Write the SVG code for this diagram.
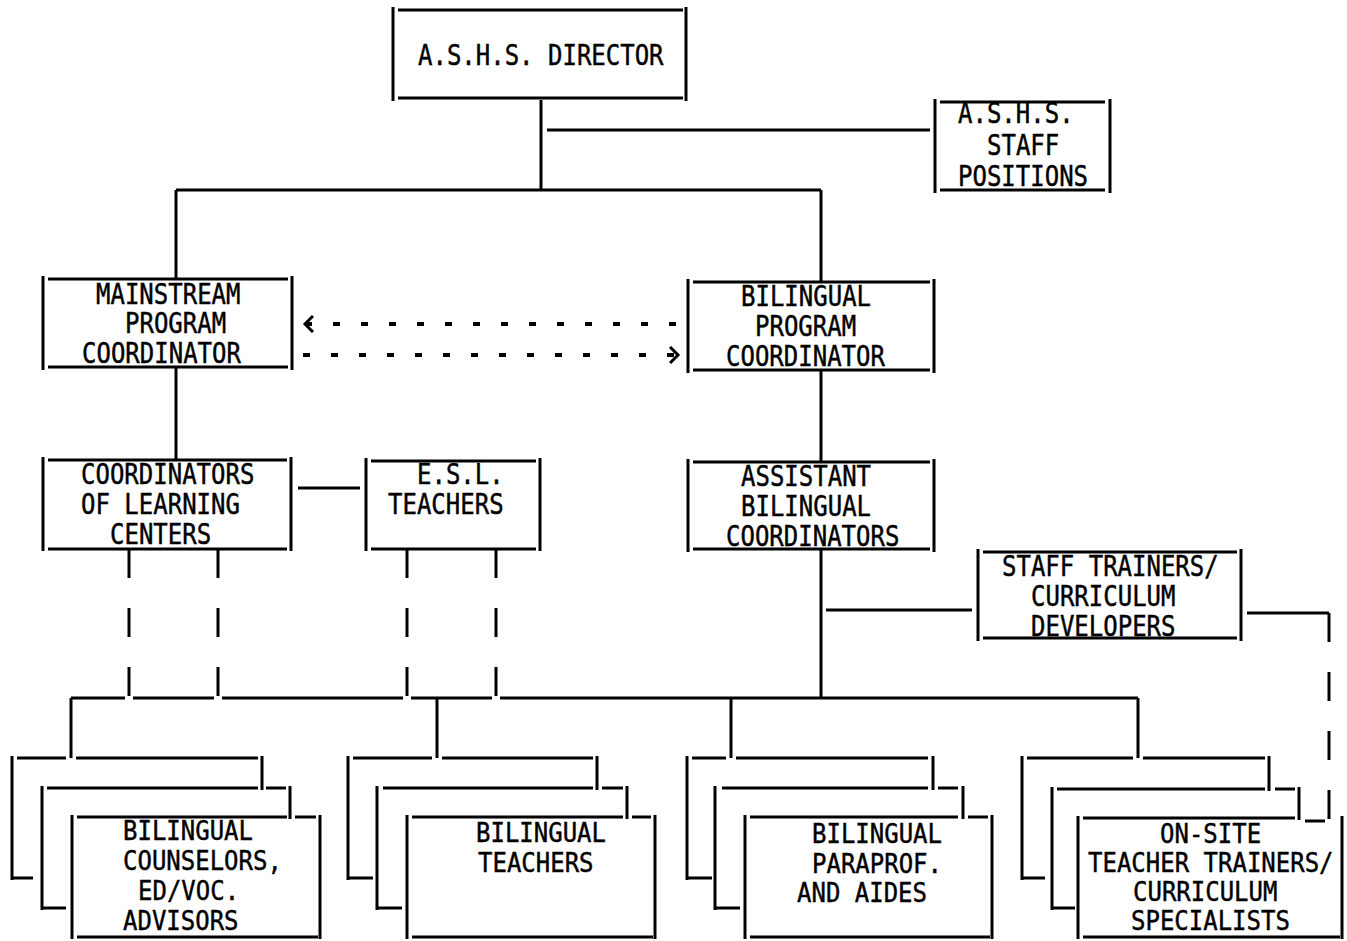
<svg xmlns="http://www.w3.org/2000/svg" width="1347" height="941" viewBox="0 0 1347 941">
<style>
.b{fill:none;stroke:#000;stroke-width:3;stroke-linecap:butt}
.c{fill:none;stroke:#000;stroke-width:3}
.d{fill:none;stroke:#000;stroke-width:3;stroke-dasharray:29 30}
.a{fill:none;stroke:#000;stroke-width:4;stroke-dasharray:7 21}
.t{font-family:"DejaVu Sans Mono","Liberation Mono",monospace;font-size:24px;fill:#000;stroke:#000;stroke-width:0.4}
</style>
<defs>
<marker id="chev" markerUnits="userSpaceOnUse" markerWidth="12" markerHeight="20" refX="9" refY="9" orient="auto-start-reverse" viewBox="0 0 12 20">
<path d="M1,1 L9,9 L1,17" fill="none" stroke="#000" stroke-width="3"/>
</marker>
</defs>
<rect width="1347" height="941" fill="#fff"/>

<g id="connectors">
<path class="c" d="M541,100V190 M547,130H930 M176,190H821 M176,190V279 M821,190V282"/>
<path class="c" d="M176,367V459 M821,370V461"/>
<path class="c" d="M298,488H360"/>
<path class="c" d="M821,549V698 M826,610H972"/>
<path class="c" d="M1247,613H1329"/>
<path class="d" d="M1329,613V822"/>
<path class="c" d="M1305,821H1325"/>
<path class="d" d="M129,549V698 M218,549V698 M407,549V698 M496,549V698"/>
<path class="c" d="M71,698H125 M133,698H214 M222,698H403 M411,698H492 M500,698H1138"/>
<path class="c" d="M71,698V758 M437,698V758 M731,698V758 M1138,698V758"/>
<line class="a" x1="305" y1="324" x2="680" y2="324" marker-start="url(#chev)"/>
<line class="a" x1="303" y1="355" x2="678" y2="355" marker-end="url(#chev)"/>
</g>

<g id="n-director">
<path class="b" d="M393,7V101 M686,7V101 M398,10H683 M398,98H683"/>
<text class="t" transform="translate(418,65) scale(1,1.2)">A.S.H.S. DIRECTOR</text>
</g>

<g id="n-staff">
<path class="b" d="M935,99V193 M1110,99V193 M940,102H1105 M940,190H1105"/>
<text class="t" transform="translate(958,123) scale(1,1.15)">A.S.H.S.</text>
<text class="t" transform="translate(987,155) scale(1,1.15)">STAFF</text>
<text class="t" transform="translate(958,186) scale(1,1.15)">POSITIONS</text>
</g>

<g id="n-mainstream">
<path class="b" d="M43,276V370 M292,276V370 M48,279H288 M48,367H288"/>
<text class="t" transform="translate(96,304) scale(1,1.15)">MAINSTREAM</text>
<text class="t" transform="translate(125,333) scale(1,1.15)">PROGRAM</text>
<text class="t" transform="translate(82,363) scale(1,1.15)">COORDINATOR</text>
</g>

<g id="n-bilingual">
<path class="b" d="M688,279V373 M934,279V373 M693,282H930 M693,370H930"/>
<text class="t" transform="translate(741,306) scale(1,1.15)">BILINGUAL</text>
<text class="t" transform="translate(755,336) scale(1,1.15)">PROGRAM</text>
<text class="t" transform="translate(726,366) scale(1,1.15)">COORDINATOR</text>
</g>

<g id="n-coord">
<path class="b" d="M43,457V551 M291,457V551 M48,460H287 M48,549H287"/>
<text class="t" transform="translate(81,484) scale(1,1.15)">COORDINATORS</text>
<text class="t" transform="translate(81,514) scale(1,1.15)">OF LEARNING</text>
<text class="t" transform="translate(110,544) scale(1,1.15)">CENTERS</text>
</g>

<g id="n-esl">
<path class="b" d="M366,458V551 M540,458V551 M371,461H536 M371,549H536"/>
<text class="t" transform="translate(417,484) scale(1,1.15)">E.S.L.</text>
<text class="t" transform="translate(388,514) scale(1,1.15)">TEACHERS</text>
</g>

<g id="n-assist">
<path class="b" d="M688,459V552 M934,459V552 M693,462H930 M693,549H930"/>
<text class="t" transform="translate(741,486) scale(1,1.15)">ASSISTANT</text>
<text class="t" transform="translate(741,516) scale(1,1.15)">BILINGUAL</text>
<text class="t" transform="translate(726,546) scale(1,1.15)">COORDINATORS</text>
</g>

<g id="n-trainers">
<path class="b" d="M978,549V641 M1241,549V641 M983,552H1237 M983,638H1237"/>
<text class="t" transform="translate(1002,576) scale(1,1.15)">STAFF TRAINERS/</text>
<text class="t" transform="translate(1031,606) scale(1,1.15)">CURRICULUM</text>
<text class="t" transform="translate(1031,636) scale(1,1.15)">DEVELOPERS</text>
</g>

<g id="n-counselors">
<path class="b" d="M12,756V880 M17,758H66 M76,758H258 M262,756V790 M12,878H33"/>
<path class="b" d="M42,786V910 M47,788H258 M266,788H286 M290,786V819 M42,908H66"/>
<path class="b" d="M72,815V939 M320,815V939 M77,817H287 M295,817H316 M77,937H318"/>
<text class="t" transform="translate(123,840) scale(1,1.12)">BILINGUAL</text>
<text class="t" transform="translate(123,870) scale(1,1.12)">COUNSELORS,</text>
<text class="t" transform="translate(138,900) scale(1,1.12)">ED/VOC.</text>
<text class="t" transform="translate(123,930) scale(1,1.12)">ADVISORS</text>
</g>

<g id="n-teachers">
<path class="b" d="M348,756V880 M353,758H432 M442,758H593 M597,756V790 M348,878H373"/>
<path class="b" d="M377,786V910 M383,788H593 M602,788H623 M627,786V819 M377,908H402"/>
<path class="b" d="M407,815V939 M655,815V939 M412,817H623 M632,817H651 M412,937H653"/>
<text class="t" transform="translate(476,842) scale(1,1.12)">BILINGUAL</text>
<text class="t" transform="translate(478,872) scale(1,1.12)">TEACHERS</text>
</g>

<g id="n-paraprof">
<path class="b" d="M687,756V880 M692,758H726 M736,758H928 M933,756V790 M687,878H712"/>
<path class="b" d="M715,786V910 M722,788H928 M938,788H958 M963,786V819 M715,908H740"/>
<path class="b" d="M745,815V939 M992,815V939 M750,817H958 M968,817H988 M750,937H990"/>
<text class="t" transform="translate(812,843) scale(1,1.12)">BILINGUAL</text>
<text class="t" transform="translate(812,873) scale(1,1.12)">PARAPROF.</text>
<text class="t" transform="translate(797,902) scale(1,1.12)">AND AIDES</text>
</g>

<g id="n-onsite">
<path class="b" d="M1022,756V880 M1027,758H1133 M1143,758H1265 M1269,756V791 M1022,878H1045"/>
<path class="b" d="M1052,787V910 M1057,789H1265 M1275,789H1295 M1299,787V820 M1052,908H1075"/>
<path class="b" d="M1078,816V939 M1342,816V939 M1083,818H1295 M1083,937H1340"/>
<text class="t" transform="translate(1160,843) scale(1,1.1)">ON-SITE</text>
<text class="t" transform="translate(1088,872) scale(1,1.1)">TEACHER TRAINERS/</text>
<text class="t" transform="translate(1133,901) scale(1,1.1)">CURRICULUM</text>
<text class="t" transform="translate(1131,930) scale(1,1.1)">SPECIALISTS</text>
</g>
</svg>
